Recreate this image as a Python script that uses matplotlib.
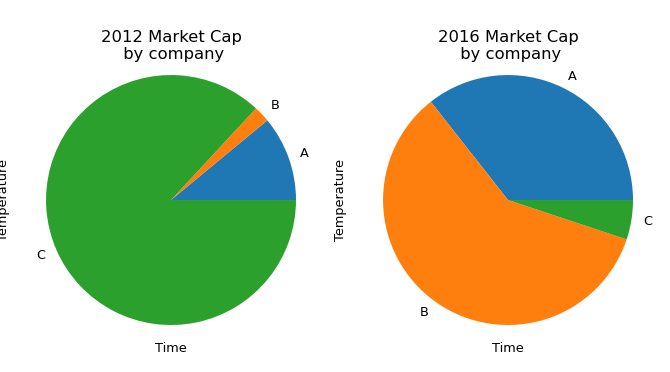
import matplotlib.pyplot as plt

# подписи и доли (оценка по картинке)
companies = ['A', 'B', 'C']
cap_2012 = [11.0, 2.1, 86.9]
cap_2016 = [35.6, 59.3, 5.1]
titles = ['2012 Market Cap\n by company', '2016 Market Cap\n by company']

fig = plt.figure(figsize=(6.7, 3.72), dpi=100)

# положение осей в долях фигуры
positions = [[0.0545, 0.1008, 0.4015, 0.723],
             [0.5575, 0.1008, 0.4015, 0.723]]

for pos, vals, title in zip(positions, [cap_2012, cap_2016], titles):
    ax = fig.add_axes(pos)
    ax.pie(vals, labels=companies, labeldistance=1.1,
           textprops={'fontsize': 9.3})
    ax.set_xlim(-1.076, 1.076)
    ax.set_ylim(-1.076, 1.076)
    ax.set_title(title, fontsize=11.8, pad=4.5)
    ax.set_xlabel('Time', fontsize=9.3, labelpad=5.5)
    ax.set_ylabel('Temperature', fontsize=9.3)
    ax.yaxis.set_label_coords(-0.098, 0.5)

fig.savefig('out.png')
